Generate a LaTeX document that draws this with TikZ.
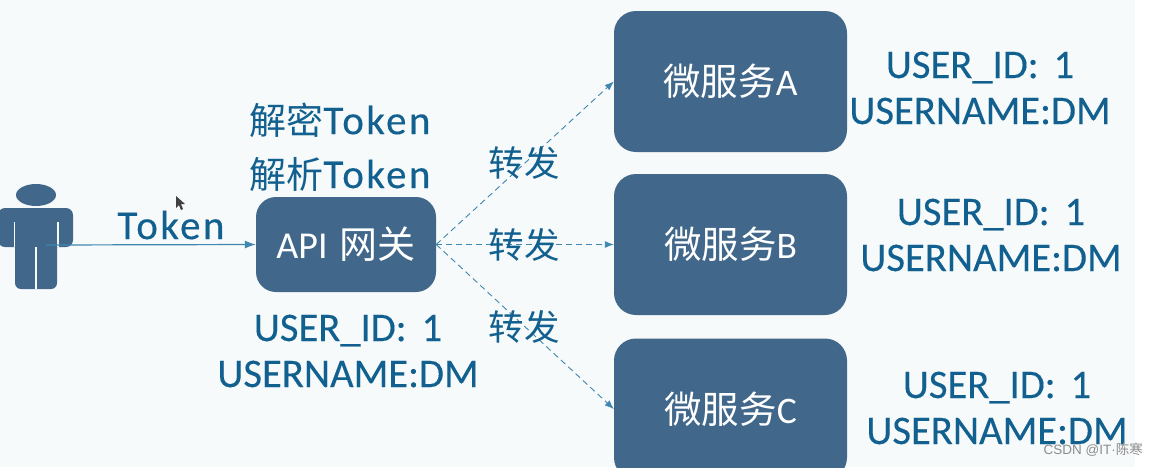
\documentclass[tikz,border=0pt]{standalone}
\usepackage{fontspec}
\setmainfont{Carlito}
\newfontfamily\cjk{Noto Sans CJK SC}
\newfontfamily\notefont[FakeBold=0.25]{Carlito}
\newfontfamily\tokenfont[FakeBold=0.25,LetterSpace=6]{Carlito}
\newfontfamily\markfont{Liberation Sans}
\usetikzlibrary{arrows.meta}
\definecolor{boxblue}{HTML}{41678A}
\definecolor{inkblue}{HTML}{11608F}
\definecolor{linkblue}{HTML}{3F86B0}
\definecolor{paper}{HTML}{F6FAFA}
\tikzset{
  service/.style={draw=none,fill=boxblue,rounded corners=22pt,text=white,minimum width=233pt,minimum height=141pt,font=\fontsize{37.5}{37.5}\selectfont,inner sep=0pt},
  gateway/.style={service,rounded corners=20pt,minimum width=180pt,minimum height=95pt,font=\fontsize{38}{38}\selectfont},
  note/.style={text=inkblue,align=center,inner sep=0pt,font=\notefont\fontsize{40.6}{46}\selectfont},
  tokenlabel/.style={text=inkblue,inner sep=0pt,font=\tokenfont\fontsize{41}{41}\selectfont},
  sendlabel/.style={text=inkblue,inner sep=0pt,font=\cjk\fontsize{35.5}{35.5}\selectfont},
  forward/.style={draw=linkblue,line width=0.9pt,dash pattern=on 6pt off 4pt,-{Latex[length=9pt,width=7pt]}},
  solidlink/.style={draw=linkblue,line width=1.2pt,-{Latex[length=11pt,width=8pt]}},
  figure/.style={fill=boxblue,draw=none}
}
\newcommand{\idlines}{USER\_ID:\hspace{15pt}1\\USERNAME:DM}
\begin{document}
\begin{tikzpicture}[x=1pt,y=-1pt]
\useasboundingbox (0,0) rectangle (1158,467);
\clip (0,0) rectangle (1158,467);
\fill[white] (0,0) rectangle (1158,467);
\fill[paper] (0,0) rectangle (1135,467);

% user figure
\fill[figure] (36,195) ellipse (20 and 11);
\fill[figure,rounded corners=7pt] (-2,208) rectangle (73,247);
\fill[figure,rounded corners=6pt] (15,225) rectangle (57,289);
\draw[paper,line width=1.2pt] (14.5,222) -- (14.5,247) (58,222) -- (58,247);
\draw[paper,line width=1.2pt] (36,247) -- (36,289);
\coordinate (user) at (46,245);

% gateway and services
\node[gateway] (api) at (346,244.5) {API\hspace{12pt}{\cjk 网关}};
\node[service] (a) at (730.5,81.5) {{\cjk 微服务}A};
\node[service] (b) at (730.5,244.5) {{\cjk 微服务}B};
\node[service] (c) at (730.5,409) {{\cjk 微服务}C};

% connectors
\draw[solidlink] (user) -- (api.west);
\draw[forward] (api.east) -- (a.west);
\draw[forward] (api.east) -- (b.west);
\draw[forward] (api.east) -- (c.west);

% labels
\node[tokenlabel] (tok) at (171,225) {Token};
\node[tokenlabel] (dec) at (340,120) {{\cjk\fontsize{37}{37}\selectfont 解密}Token};
\node[tokenlabel] (par) at (340,174) {{\cjk\fontsize{37}{37}\selectfont 解析}Token};
\node[sendlabel] (s1) at (524,163) {转发};
\node[sendlabel] (s2) at (524,245) {转发};
\node[sendlabel] (s3) at (524,327) {转发};
\node[note] (n0) at (348,351) {\idlines};
\node[note] (n1) at (980,88) {\idlines};
\node[note] (n2) at (991,235) {\idlines};
\node[note] (n3) at (997,408) {\idlines};

% pointer
\fill[black!75] (176,196) -- (176,208) -- (179,205) -- (181,210) -- (183,209) -- (181,204) -- (185,204) -- cycle;

% attribution
\node[text=black!45,inner sep=0pt,anchor=east,font=\markfont\fontsize{13.5}{13.5}\selectfont] (mark) at (1143,450) {CSDN @IT·{\cjk 陈寒}};
\end{tikzpicture}
\end{document}
